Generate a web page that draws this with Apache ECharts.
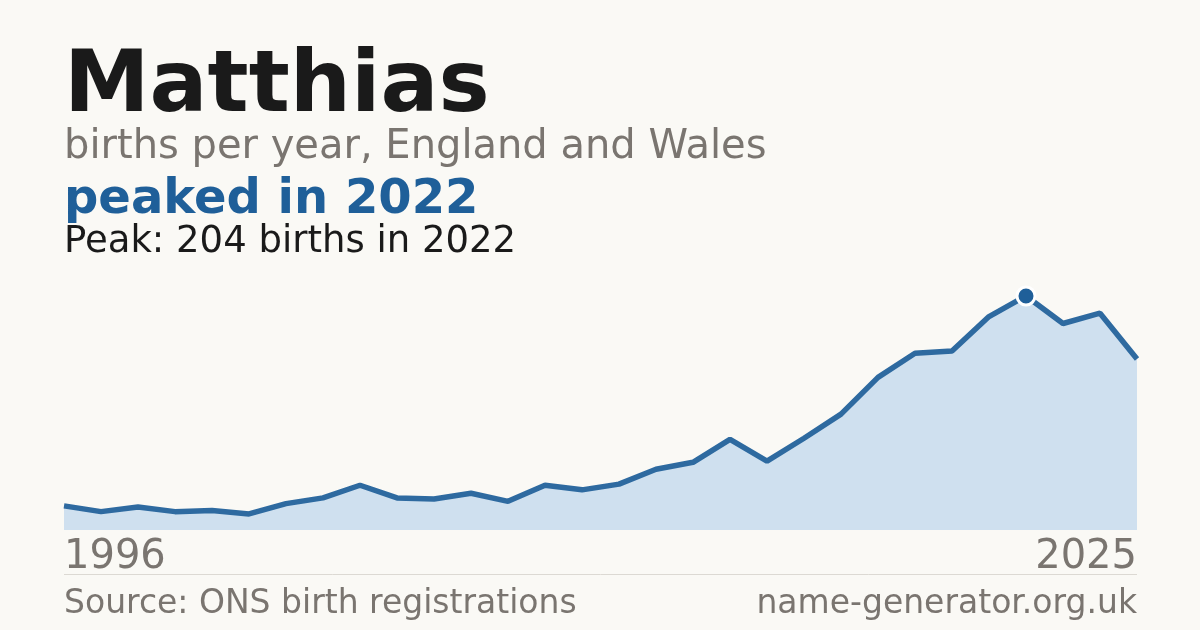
<!DOCTYPE html>
<html>
<head>
<meta charset="utf-8">
<script src="https://cdn.jsdelivr.net/npm/echarts@6/dist/echarts.min.js"></script>
<style>
html,body{margin:0;padding:0;background:#faf9f5;}
#c{width:1200px;height:630px;}
</style>
</head>
<body>
<div id="c"></div>
<script>
const years = ['1996','1997','1998','1999','2000','2001','2002','2003','2004','2005','2006','2007','2008','2009','2010','2011','2012','2013','2014','2015','2016','2017','2018','2019','2020','2021','2022','2023','2024','2025'];
const births = [21,16,20,16,17,14,23,28,39,28,27,32,25,39,35,40,53,59,79,60,80,101,133,154,156,186,204,180,189,149];
const peakYear = '2022';
const peakValue = 204;

const FONT = '"DejaVu Sans", sans-serif';
const chart = echarts.init(document.getElementById('c'));
const lastIdx = years.length - 1;

chart.setOption({
  backgroundColor: '#faf9f5',
  animation: false,
  grid: {left: 64, right: 63, top: 277.6, bottom: 100, containLabel: false},
  xAxis: {
    type: 'category',
    data: years,
    boundaryGap: false,
    axisLine: {show: false},
    axisTick: {show: false},
    splitLine: {show: false},
    axisLabel: {
      interval: function (i) { return i === 0 || i === lastIdx; },
      margin: 8,
      color: '#7a7570',
      fontFamily: FONT,
      fontSize: 40,
      alignMinLabel: 'left',
      alignMaxLabel: 'right'
    }
  },
  yAxis: {
    type: 'value',
    min: 0,
    max: 220,
    show: false
  },
  series: [{
    type: 'line',
    data: births,
    symbol: 'none',
    lineStyle: {color: '#2e6aa0', width: 5.5},
    areaStyle: {color: '#cfe0ef', opacity: 1},
    clip: false,
    markPoint: {
      symbol: 'circle',
      symbolSize: 18,
      itemStyle: {color: '#1f5f99', borderColor: '#ffffff', borderWidth: 3},
      label: {show: false},
      data: [{coord: [peakYear, peakValue]}]
    }
  }],
  graphic: [
    {type: 'text', left: 64, top: 46, style: {text: 'Matthias', font: 'bold 86px ' + FONT, fill: '#1a1a1a'}},
    {type: 'text', left: 64, top: 128, style: {text: 'births per year, England and Wales', font: '40px ' + FONT, fill: '#7a7570'}},
    {type: 'text', left: 64, top: 177, style: {text: 'peaked in 2022', font: 'bold 48px ' + FONT, fill: '#1f5f99'}},
    {type: 'text', left: 64, top: 224, style: {text: 'Peak: 204 births in 2022', font: '37px ' + FONT, fill: '#1a1a1a'}},
    {type: 'line', shape: {x1: 64, y1: 574.5, x2: 1137, y2: 574.5}, style: {stroke: '#dcd9d3', lineWidth: 1}},
    {type: 'text', left: 64, top: 588, style: {text: 'Source: ONS birth registrations', font: '33px ' + FONT, fill: '#7a7570'}},
    {type: 'text', right: 63, top: 588, style: {text: 'name-generator.org.uk', font: '33px ' + FONT, fill: '#7a7570'}}
  ]
});
</script>
</body>
</html>
